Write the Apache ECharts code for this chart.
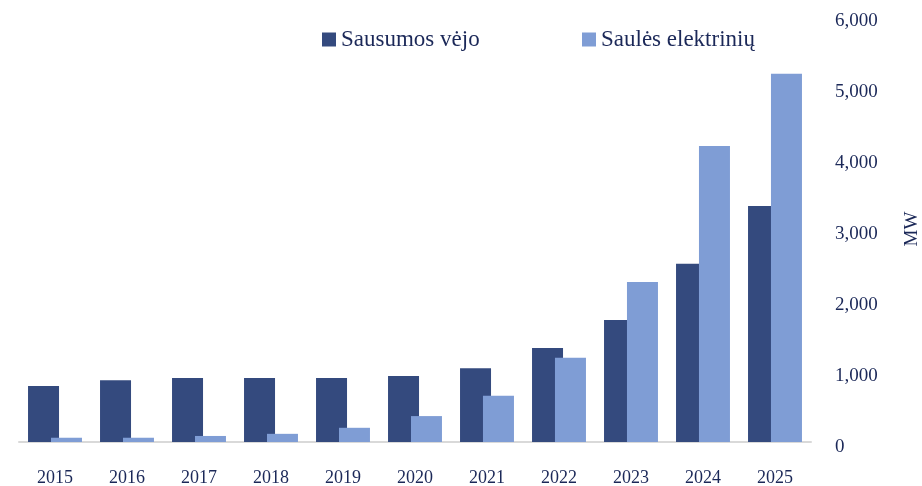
<!DOCTYPE html>
<html>
<head>
<meta charset="utf-8">
<script src="https://cdn.jsdelivr.net/npm/echarts@6/dist/echarts.min.js"></script>
<style>
  html, body { margin: 0; padding: 0; background: #fff; }
  #main { width: 922px; height: 486px; }
</style>
</head>
<body>
<div id="main"></div>
<script>
// metai
const years = ['2015', '2016', '2017', '2018', '2019', '2020', '2021', '2022', '2023', '2024', '2025'];
// Sausumos vėjo, MW
const windValues = [790, 870, 900, 900, 900, 930, 1040, 1325, 1720, 2510, 3325];
// Saulės elektrinių, MW
const solarValues = [60, 60, 85, 115, 200, 365, 650, 1185, 2255, 4170, 5185];

const textColor = '#1b2858';
const font = 'Liberation Serif';

var myChart = echarts.init(document.getElementById('main'));

var option = {
  animation: false,
  textStyle: { fontFamily: font, color: textColor },
  legend: [
    {
      data: ['Sausumos vėjo'],
      left: 317,
      top: 23,
      icon: 'rect',
      itemWidth: 14,
      itemHeight: 14,
      itemGap: 6,
      textStyle: { fontFamily: font, fontSize: 23, color: textColor }
    },
    {
      data: ['Saulės elektrinių'],
      left: 577,
      top: 23,
      icon: 'rect',
      itemWidth: 14,
      itemHeight: 14,
      textStyle: { fontFamily: font, fontSize: 23, color: textColor }
    }
  ],
  grid: {
    left: 19,
    right: 111,
    top: 16,
    bottom: 44,
    outerBoundsMode: 'none'
  },
  xAxis: {
    type: 'category',
    data: years,
    axisLine: { lineStyle: { color: '#d9d9d9', width: 2 } },
    axisTick: { length: 7, lineStyle: { color: '#d9d9d9', width: 2 } },
    axisLabel: { fontFamily: font, fontSize: 18, color: textColor, margin: 27 }
  },
  yAxis: {
    type: 'value',
    position: 'right',
    min: 0,
    max: 6000,
    interval: 1000,
    name: 'MW',
    nameLocation: 'middle',
    nameGap: 92,
    nameRotate: 90,
    nameTextStyle: { fontFamily: font, fontSize: 19, color: textColor },
    axisLine: { show: false },
    axisTick: { show: false },
    splitLine: { show: false },
    axisLabel: {
      fontFamily: font,
      fontSize: 19,
      color: textColor,
      margin: 24,
      align: 'left',
      verticalAlign: 'top',
      lineHeight: 11,
      formatter: function (v) { return v.toLocaleString('en-US'); }
    }
  },
  series: [
    {
      name: 'Sausumos vėjo',
      type: 'bar',
      data: windValues,
      barWidth: 31,
      barGap: '-26%',
      itemStyle: { color: '#344a7e' }
    },
    {
      name: 'Saulės elektrinių',
      type: 'bar',
      data: solarValues,
      barWidth: 31,
      itemStyle: { color: '#7f9dd5' }
    }
  ]
};

myChart.setOption(option);
</script>
</body>
</html>
